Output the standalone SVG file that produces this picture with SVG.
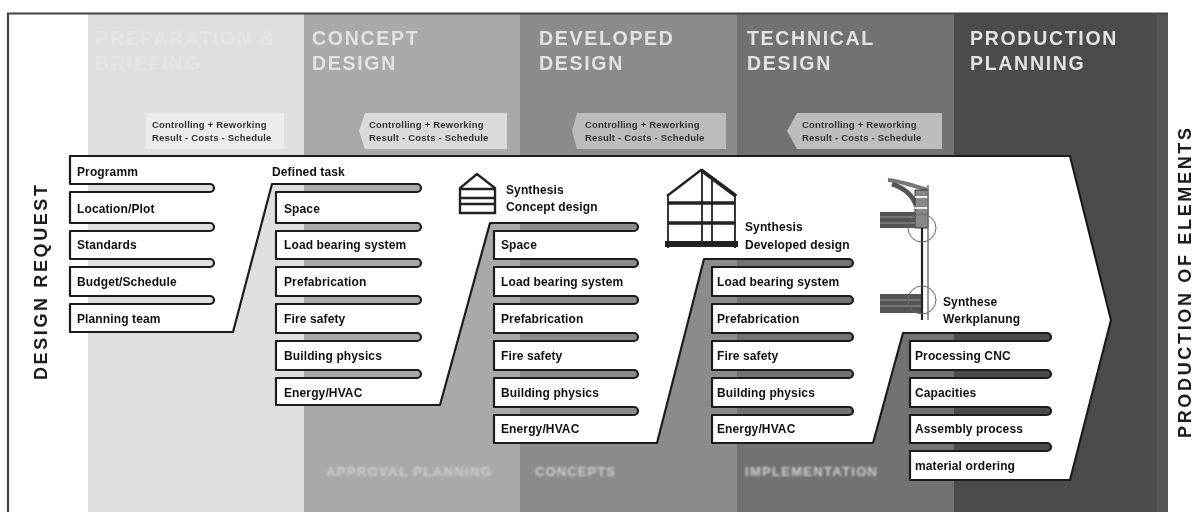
<svg xmlns="http://www.w3.org/2000/svg" width="1194" height="512" viewBox="0 0 1194 512">
<defs>
<filter id="soft" x="-2%" y="-2%" width="104%" height="104%"><feGaussianBlur stdDeviation="0.65"/></filter>
<filter id="softer" x="-5%" y="-20%" width="110%" height="140%"><feGaussianBlur stdDeviation="1.200"/></filter>
</defs>
<style>
text{font-family:"Liberation Sans",Arial,sans-serif}
.h{font-size:19.5px;font-weight:700;fill:#e2e2e2;letter-spacing:1.7px}
.h0{fill:#e4e4e4}
.r{font-size:12px;font-weight:700;fill:#111;letter-spacing:.12px}
.c{font-size:9.5px;font-weight:700;fill:#333;letter-spacing:.2px}
.v{font-size:18px;font-weight:700;fill:#1c1c1c}
.b{font-size:13px;font-weight:700;fill:#cfcfcf}
.ic{fill:none;stroke:#222;stroke-width:2.400}
</style>
<rect width="1194" height="512" fill="#fff"/>
<g filter="url(#soft)">
<g id="phases">
<rect x="88" y="14" width="216" height="498" fill="#dfdfdf"/>
<rect x="304" y="14" width="216" height="498" fill="#a9a9a9"/>
<rect x="520" y="14" width="217" height="498" fill="#8b8b8b"/>
<rect x="737" y="14" width="217" height="498" fill="#727272"/>
<rect x="954" y="14" width="203" height="498" fill="#4b4b4b"/>
<rect x="1157" y="14" width="11" height="498" fill="#555"/>
<path d="M8 512V13.500H1168" fill="none" stroke="#444" stroke-width="2.200"/>
</g>
<g id="phase-titles">
<text class="h h0" x="95" y="44.500">PREPARATION &amp;</text>
<text class="h h0" x="95" y="70">BRIEFING</text>
<text class="h" x="312" y="44.500">CONCEPT</text><text class="h" x="312" y="70">DESIGN</text>
<text class="h" x="539" y="44.500">DEVELOPED</text><text class="h" x="539" y="70">DESIGN</text>
<text class="h" x="747" y="44.500">TECHNICAL</text><text class="h" x="747" y="70">DESIGN</text>
<text class="h" x="970" y="44.500">PRODUCTION</text><text class="h" x="970" y="70">PLANNING</text>
</g>
<g id="controlling-0"><rect x="146" y="113" width="138" height="36" fill="#ececec"/>
<text class="c" x="152" y="127.500">Controlling + Reworking</text><text class="c" x="152" y="140.500">Result - Costs - Schedule</text></g>
<g id="controlling-1"><path d="M365 113H507V149H365L359 131Z" fill="#dadada"/>
<text class="c" x="369" y="127.500">Controlling + Reworking</text><text class="c" x="369" y="140.500">Result - Costs - Schedule</text></g>
<g id="controlling-2"><path d="M577 113H726V149H577L572 131Z" fill="#bcbcbc"/>
<text class="c" x="585" y="127.500">Controlling + Reworking</text><text class="c" x="585" y="140.500">Result - Costs - Schedule</text></g>
<g id="controlling-3"><path d="M797 113H942V149H797L787 131Z" fill="#bdbdbd"/>
<text class="c" x="802" y="127.500">Controlling + Reworking</text><text class="c" x="802" y="140.500">Result - Costs - Schedule</text></g>
<g id="process-band">
<path fill="#fff" stroke="#1f1f1f" stroke-width="2.200" stroke-linejoin="round" d="M70 156H1070L1111 320L1070 480H910V451H1047a4 4 0 0 0 0-8H910V415H1047a4 4 0 0 0 0-8H910V378H1047a4 4 0 0 0 0-8H910V341H1047a4 4 0 0 0 0-8H903L873 443H712V415H849a4 4 0 0 0 0-8H712V378H849a4 4 0 0 0 0-8H712V341H849a4 4 0 0 0 0-8H712V304H849a4 4 0 0 0 0-8H712V267H849a4 4 0 0 0 0-8H704L657 443H494V415H634a4 4 0 0 0 0-8H494V378H634a4 4 0 0 0 0-8H494V341H634a4 4 0 0 0 0-8H494V304H634a4 4 0 0 0 0-8H494V267H634a4 4 0 0 0 0-8H494V231H634a4 4 0 0 0 0-8H490L440 405H276V378H417a4 4 0 0 0 0-8H276V341H417a4 4 0 0 0 0-8H276V304H417a4 4 0 0 0 0-8H276V267H417a4 4 0 0 0 0-8H276V231H417a4 4 0 0 0 0-8H276V192H417a4 4 0 0 0 0-8H272L233 332H70V304H210a4 4 0 0 0 0-8H70V267H210a4 4 0 0 0 0-8H70V231H210a4 4 0 0 0 0-8H70V192H210a4 4 0 0 0 0-8H70Z"/>
</g>
<g id="programme">
<text class="r" x="77" y="176">Programm</text><text class="r" x="77" y="213">Location/Plot</text><text class="r" x="77" y="249">Standards</text><text class="r" x="77" y="286">Budget/Schedule</text><text class="r" x="77" y="323">Planning team</text>
</g>
<g id="defined-task">
<text class="r" x="272" y="176">Defined task</text>
<text class="r" x="284" y="213">Space</text><text class="r" x="284" y="249">Load bearing system</text><text class="r" x="284" y="286">Prefabrication</text><text class="r" x="284" y="323">Fire safety</text><text class="r" x="284" y="360">Building physics</text><text class="r" x="284" y="397">Energy/HVAC</text>
</g>
<g id="synthesis-concept">
<text class="r" x="506" y="194">Synthesis</text><text class="r" x="506" y="211">Concept design</text>
<text class="r" x="501" y="249">Space</text><text class="r" x="501" y="286">Load bearing system</text><text class="r" x="501" y="323">Prefabrication</text><text class="r" x="501" y="360">Fire safety</text><text class="r" x="501" y="397">Building physics</text><text class="r" x="501" y="433">Energy/HVAC</text>
</g>
<g id="synthesis-developed">
<text class="r" x="745" y="231">Synthesis</text><text class="r" x="745" y="249">Developed design</text>
<text class="r" x="717" y="286">Load bearing system</text><text class="r" x="717" y="323">Prefabrication</text><text class="r" x="717" y="360">Fire safety</text><text class="r" x="717" y="397">Building physics</text><text class="r" x="717" y="433">Energy/HVAC</text>
</g>
<g id="synthese-werkplanung">
<text class="r" x="943" y="306">Synthese</text><text class="r" x="943" y="323">Werkplanung</text>
<text class="r" x="915" y="360">Processing CNC</text><text class="r" x="915" y="397">Capacities</text><text class="r" x="915" y="433">Assembly process</text><text class="r" x="915" y="470">material ordering</text>
</g>
<g id="icon-concept" class="ic">
<path d="M460 213V188L477 174L495 188V213ZM460 189H495M460 198H495M460 204H495"/>
</g>
<g id="icon-developed" class="ic">
<path d="M667 196L701 170L736 196"/><path d="M701 170L736 196" stroke-width="4"/>
<path d="M668 196V248M735 196V248M702 170V242M712 178V242" stroke-width="1.800"/>
<path d="M668 203H735M668 223H735" stroke-width="3.500"/><path d="M665 244H738" stroke-width="6"/>
</g>
<g id="icon-detail" fill="none">
<path d="M888 180C900 181 915 186 928 190" stroke="#777" stroke-width="4"/>
<path d="M892 184C904 188 912 194 916 205" stroke="#555" stroke-width="5"/>
<path d="M915 190H928V228H915Z" fill="#888" stroke="#333"/>
<path d="M915 197H928M915 208H928" stroke="#eee" stroke-width="2"/>
<rect x="880" y="212" width="35" height="16" fill="#555"/>
<path d="M880 217H915M880 223H915" stroke="#999"/>
<rect x="880" y="294" width="42" height="19" fill="#555"/>
<path d="M880 300H922M880 306H922" stroke="#999"/>
<path d="M922 228V320" stroke="#222" stroke-width="2.200"/><path d="M928 185V320" stroke="#777" stroke-width="1.500"/>
<circle cx="922" cy="228" r="14" stroke="#666"/><circle cx="922" cy="300" r="14" stroke="#666"/>
</g>
<g id="side-labels">
<text class="v" transform="translate(47 380) rotate(-90)" textLength="195" lengthAdjust="spacing">DESIGN REQUEST</text>
<text class="v" transform="translate(1191 438) rotate(-90)" textLength="310" lengthAdjust="spacing">PRODUCTION OF ELEMENTS</text>
</g>
</g>
<g id="footer-labels">
<text class="b" x="326" y="476" textLength="165" filter="url(#softer)">APPROVAL PLANNING</text>
<text class="b" x="535" y="476" textLength="80" filter="url(#softer)">CONCEPTS</text>
<text class="b" x="745" y="476" textLength="132" filter="url(#softer)">IMPLEMENTATION</text>
</g>
</svg>
